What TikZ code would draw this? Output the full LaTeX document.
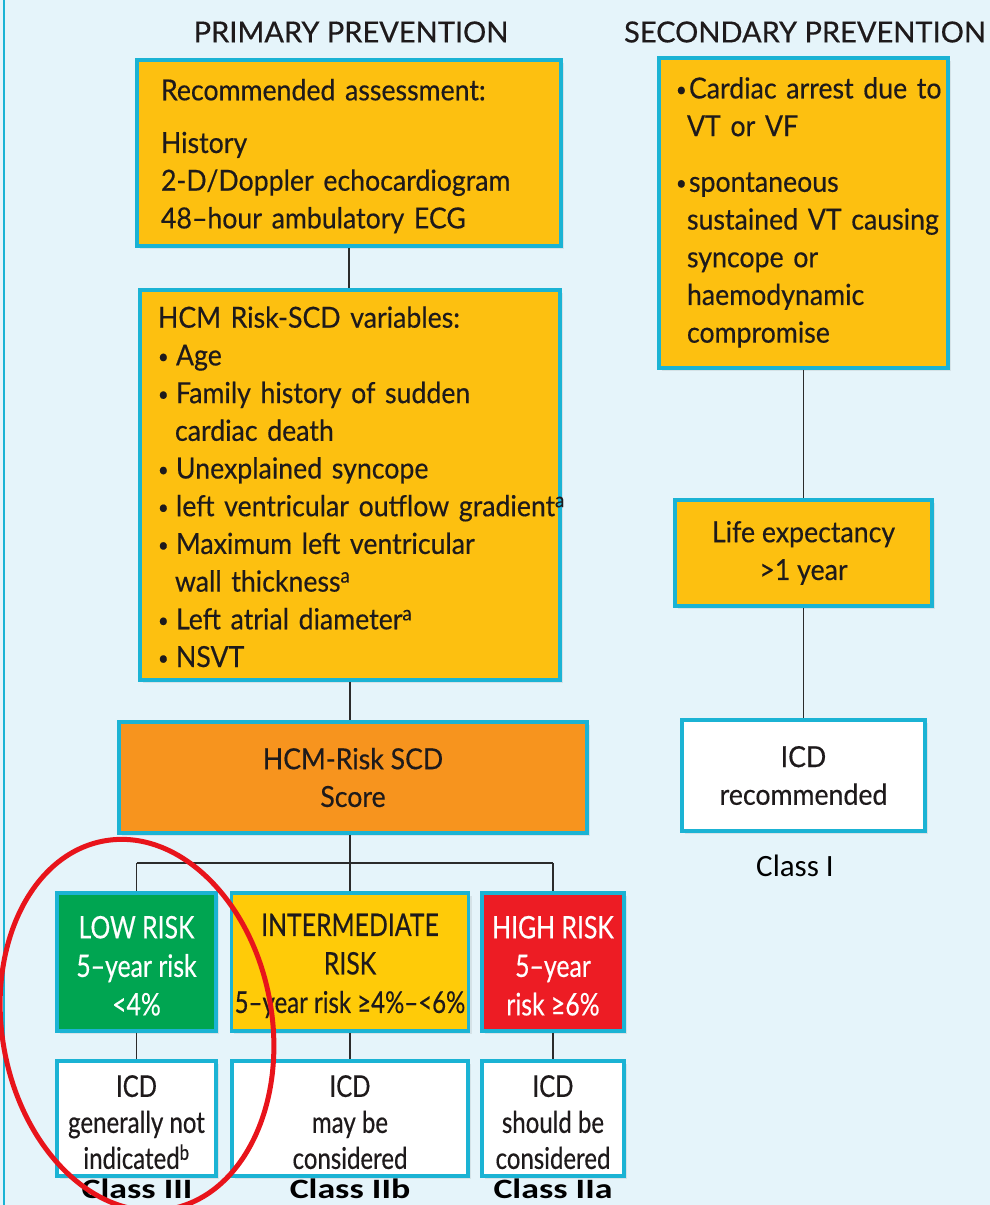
\documentclass[tikz,border=0pt]{standalone}
\usepackage{fontspec}
\setmainfont{Lato}[FakeStretch=0.92, FakeBold=0.4]
\newfontfamily\titlefont{Lato}[FakeBold=0.5]
\newfontfamily\condfont{Lato}[FakeStretch=0.8, FakeBold=0.4]
\newfontfamily\calfont{Carlito}
\newfontfamily\calwide{Carlito}[FakeStretch=1.28]
\usetikzlibrary{shadows}
\definecolor{bg}{HTML}{E5F4FA}
\definecolor{cyanb}{HTML}{1BB3D4}
\definecolor{yfill}{HTML}{FDC010}
\definecolor{ifill}{HTML}{FFCB08}
\definecolor{ofill}{HTML}{F7941E}
\definecolor{gfill}{HTML}{00A551}
\definecolor{rfill}{HTML}{ED1C24}
\definecolor{txt}{HTML}{1E1A1B}
\definecolor{conn}{HTML}{2B2B2B}
\definecolor{redc}{HTML}{E8141B}
\newcommand\mainsz{\fontsize{29}{37.7}\selectfont}
\newcommand\condsz{\condfont\fontsize{31}{38.5}\selectfont}
\newcommand\icdsz{\condfont\fontsize{30}{36}\selectfont}
\newcommand\bulA{\makebox[18pt][l]{\raisebox{2pt}{\fontsize{20}{20}\selectfont\textbullet}}}
\newcommand\bulB{\makebox[13pt][l]{\raisebox{2pt}{\fontsize{20}{20}\selectfont\textbullet}}}
\begin{document}
\begin{tikzpicture}[x=1pt,y=-1pt,
  boxbase/.style={draw=cyanb, line width=3.5pt, inner ysep=0pt, text=txt,
     drop shadow={shadow xshift=3pt, shadow yshift=-3pt, opacity=0.15}},
  yelbox/.style={boxbase, fill=yfill, font=\mainsz},
  orgbox/.style={boxbase, fill=ofill, font=\mainsz, align=center},
  whitebox/.style={boxbase, fill=white, align=center},
  riskbox/.style={boxbase, align=center, font=\condsz, minimum height=138},
  icdbox/.style={boxbase, fill=white, align=center, font=\icdsz, minimum height=115},
  conline/.style={draw=conn, line width=1.8pt},
  title/.style={font=\titlefont\fontsize{29}{34}\selectfont, text=txt},
  classlbl/.style={font=\calwide\bfseries\fontsize{28}{30}\selectfont, text=black, anchor=base, inner sep=0pt},
  classreg/.style={font=\calfont\fontsize{31}{34}\selectfont, text=black}
]
\useasboundingbox (0,0) rectangle (990,1205);
\fill[bg] (0,0) rectangle (990,1205);
\draw[cyanb, line width=2pt] (4,0) -- (4,1205);

% titles
\node[title] (t1) at (351,32) {PRIMARY PREVENTION};
\node[title] (t2) at (805,32) {SECONDARY PREVENTION};

% primary column
\node[yelbox, minimum width=424, minimum height=186, text width=376, inner xsep=24] (b1) at (349,153)
 {\begin{tabular}{@{}l@{}}\rule{0pt}{34pt}Recommended assessment:\\[15pt] History\\ 2-D/Doppler echocardiogram\\ 48–hour ambulatory ECG\end{tabular}};

\node[yelbox, minimum width=420, minimum height=390, text width=384, inner xsep=18] (b2) at (350,485)
 {\begin{tabular}{@{}l@{}}\rule{0pt}{36pt}HCM Risk-SCD variables:\\
 \bulA Age\\
 \bulA Family history of sudden\\
 \hspace*{17pt}cardiac death\\
 \bulA Unexplained syncope\\
 \bulA left ventricular outflow gradient\textsuperscript{a}\\
 \bulA Maximum left ventricular\\
 \hspace*{17pt}wall thickness\textsuperscript{a}\\
 \bulA Left atrial diameter\textsuperscript{a}\\
 \bulA NSVT\end{tabular}};

\node[orgbox, minimum width=468, minimum height=111] (b3) at (353,777.5) {HCM-Risk SCD\\Score};

\node[riskbox, fill=gfill, text=white, minimum width=159] (lo) at (136.5,962) {\rule{0pt}{30pt}LOW RISK\\5–year risk\\<4\%};
\node[riskbox, fill=ifill, minimum width=236] (mid) at (350,962) {\rule{0pt}{30pt}INTERMEDIATE\\RISK\\{\fontsize{30}{38.5}\selectfont 5–year risk ≥4\%–<6\%}};
\node[riskbox, fill=rfill, text=white, minimum width=142] (hi) at (553,962) {\rule{0pt}{30pt}HIGH RISK\\5–year\\risk ≥6\%};

\node[icdbox, minimum width=159] (loicd) at (136.5,1118.5) {\rule{0pt}{29pt}ICD\\generally not\\indicated\textsuperscript{b}};
\node[icdbox, minimum width=236] (midicd) at (350,1118.5) {\rule{0pt}{29pt}ICD\\may be\\considered};
\node[icdbox, minimum width=142] (hiicd) at (553,1118.5) {\rule{0pt}{29pt}ICD\\should be\\considered};

\node[classlbl] (c3) at (137,1198.5) {Class III};
\node[classlbl] (c2b) at (350,1198.5) {Class IIb};
\node[classlbl] (c2a) at (553,1198.5) {Class IIa};

% secondary column
\node[yelbox, minimum width=289, minimum height=310, text width=255, inner xsep=17] (r1) at (803.5,213)
 {\begin{tabular}{@{}l@{}}\bulB Cardiac arrest due to\\
 \hspace*{11pt}VT or VF\\[18pt]
 \bulB spontaneous\\
 \hspace*{11pt}sustained VT causing\\
 \hspace*{11pt}syncope or\\
 \hspace*{11pt}haemodynamic\\
 \hspace*{11pt}compromise\end{tabular}};
\node[yelbox, minimum width=257, minimum height=106, align=center] (r2) at (803.5,553) {Life expectancy\\>1 year};
\node[whitebox, font=\mainsz, minimum width=243, minimum height=111] (r3) at (803.5,775.5) {ICD\\recommended};
\node[classreg] (c1) at (795,866) {Class I};

% connectors
\coordinate (split) at (350,863);
\draw[conline] (b1.south) -- (b1.south |- b2.north);
\draw[conline] (b2.south) -- (b2.south |- b3.north);
\draw[conline] (b3.south -| split) -- (split);
\draw[conline] (lo.north |- split) -- (hi.north |- split);
\draw[conline] (lo.north |- split) -- (lo.north);
\draw[conline] (split) -- (mid.north);
\draw[conline] (hi.north |- split) -- (hi.north);
\draw[conline] (lo.south) -- (loicd.north);
\draw[conline] (mid.south) -- (midicd.north);
\draw[conline] (hi.south) -- (hiicd.north);
\draw[conline] (r1.south) -- (r2.north);
\draw[conline] (r2.south) -- (r3.north);

% red ellipse
\draw[redc, line width=5pt, rotate around={10:(137,1025)}] (137,1025) ellipse [x radius=135pt, y radius=187pt];
\end{tikzpicture}
\end{document}
